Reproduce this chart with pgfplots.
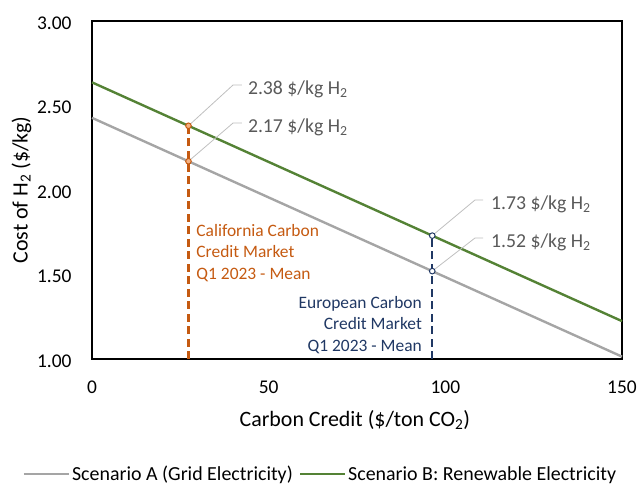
\documentclass[border=0pt]{standalone}
\usepackage{pgfplots}
\pgfplotsset{compat=1.18}
\usepackage{fontspec}
\setmainfont{Carlito}
\definecolor{gA}{HTML}{A5A5A5}
\definecolor{gB}{HTML}{548235}
\definecolor{cor}{HTML}{C55A11}
\definecolor{corl}{HTML}{F4B183}
\definecolor{cnv}{HTML}{203864}
\definecolor{ctx}{HTML}{595959}
\definecolor{cld}{HTML}{BFBFBF}
\begin{document}
\begin{tikzpicture}
\begin{axis}[
  at={(0,0)}, anchor=south west,
  scale only axis, width=530bp, height=338bp,
  xmin=0, xmax=150, ymin=1, ymax=3,
  xtick={0,50,100,150}, ytick={1,1.5,2,2.5,3},
  /pgf/number format/assume math mode=true,
  yticklabel style={/pgf/number format/fixed, /pgf/number format/fixed zerofill, /pgf/number format/precision=2},
  tick style={draw=none},
  axis line style={black, line width=1.1pt},
  ticklabel style={font=\fontsize{19.5}{22}\selectfont, text=black},
  yticklabel style={xshift=-17bp, yshift=-2bp},
  xticklabel style={yshift=-18bp},
  xlabel={Carbon Credit (\$/ton CO\textsubscript{2})},
  ylabel={Cost of H\textsubscript{2} (\$/kg)},
  label style={font=\fontsize{22}{24}\selectfont},
  xlabel style={at={(axis description cs:0.496,-0.18)}, anchor=center},
  ylabel style={at={(axis description cs:-0.133,0.5)}, anchor=center},
  legend style={at={(axis description cs:0.431,-0.340)}, anchor=center, draw=none,
    font=\fontsize{20}{22}\selectfont, legend columns=2,
    /tikz/every even column/.append style={column sep=4bp}},
  legend image code/.code={\draw[#1] (0bp,0bp) -- (45bp,0bp);},
  clip=false,
]
\addplot[gA, line width=2.4pt] coordinates {(0,2.427) (150,1.014)};
\addlegendentry{Scenario A (Grid Electricity)}
\addplot[gB, line width=2.4pt] coordinates {(0,2.637) (150,1.224)};
\addlegendentry{Scenario B: Renewable Electricity}
% vertical dashed markers
\addplot[cor, line width=2.4pt, dash pattern=on 8bp off 4.5bp, forget plot] coordinates {(27.3,1) (27.3,2.38)};
\addplot[cnv, line width=2.4pt, dash pattern=on 8bp off 4.5bp, forget plot] coordinates {(96.3,1) (96.3,1.73)};
% leader lines
\addplot[cld, line width=0.8pt, forget plot] coordinates {(27.3,2.38) (39.9,2.621) (42.45,2.621)};
\addplot[cld, line width=0.8pt, forget plot] coordinates {(27.3,2.17) (39.9,2.396) (42.45,2.396)};
\addplot[cld, line width=0.8pt, forget plot] coordinates {(96.3,1.73) (108.4,1.941) (110.7,1.941)};
\addplot[cld, line width=0.8pt, forget plot] coordinates {(96.3,1.52) (108.4,1.716) (110.7,1.716)};
% points
\addplot[only marks, mark=*, mark size=2.8bp, mark options={draw=cor, fill=corl, line width=1pt}, forget plot] coordinates {(27.3,2.38) (27.3,2.17)};
\addplot[only marks, mark=*, mark size=2.8bp, mark options={draw=cnv, fill=white, line width=1pt}, forget plot] coordinates {(96.3,1.73) (96.3,1.52)};
% value labels
\node[anchor=west, inner sep=0pt, text=ctx, font=\fontsize{19.8}{22}\selectfont] at (axis cs:44.1,2.598) {2.38 \$/kg H\textsubscript{2}};
\node[anchor=west, inner sep=0pt, text=ctx, font=\fontsize{19.8}{22}\selectfont] at (axis cs:44.1,2.373) {2.17 \$/kg H\textsubscript{2}};
\node[anchor=west, inner sep=0pt, text=ctx, font=\fontsize{19.8}{22}\selectfont] at (axis cs:112.9,1.917) {1.73 \$/kg H\textsubscript{2}};
\node[anchor=west, inner sep=0pt, text=ctx, font=\fontsize{19.8}{22}\selectfont] at (axis cs:112.9,1.692) {1.52 \$/kg H\textsubscript{2}};
% market labels
\node[anchor=west, inner sep=0pt, align=left, text=cor, font=\fontsize{17.5}{22}\selectfont] at (axis cs:29.5,1.627) {California Carbon\\Credit Market\\Q1 2023 - Mean};
\node[anchor=east, inner sep=0pt, align=right, text=cnv, font=\fontsize{17.5}{22}\selectfont] at (axis cs:93.4,1.201) {European Carbon\\Credit Market\\Q1 2023 - Mean};
\end{axis}
\pgfresetboundingbox
\path[use as bounding box] (-92bp,-126bp) rectangle (546bp,359bp);
\end{tikzpicture}
\end{document}
